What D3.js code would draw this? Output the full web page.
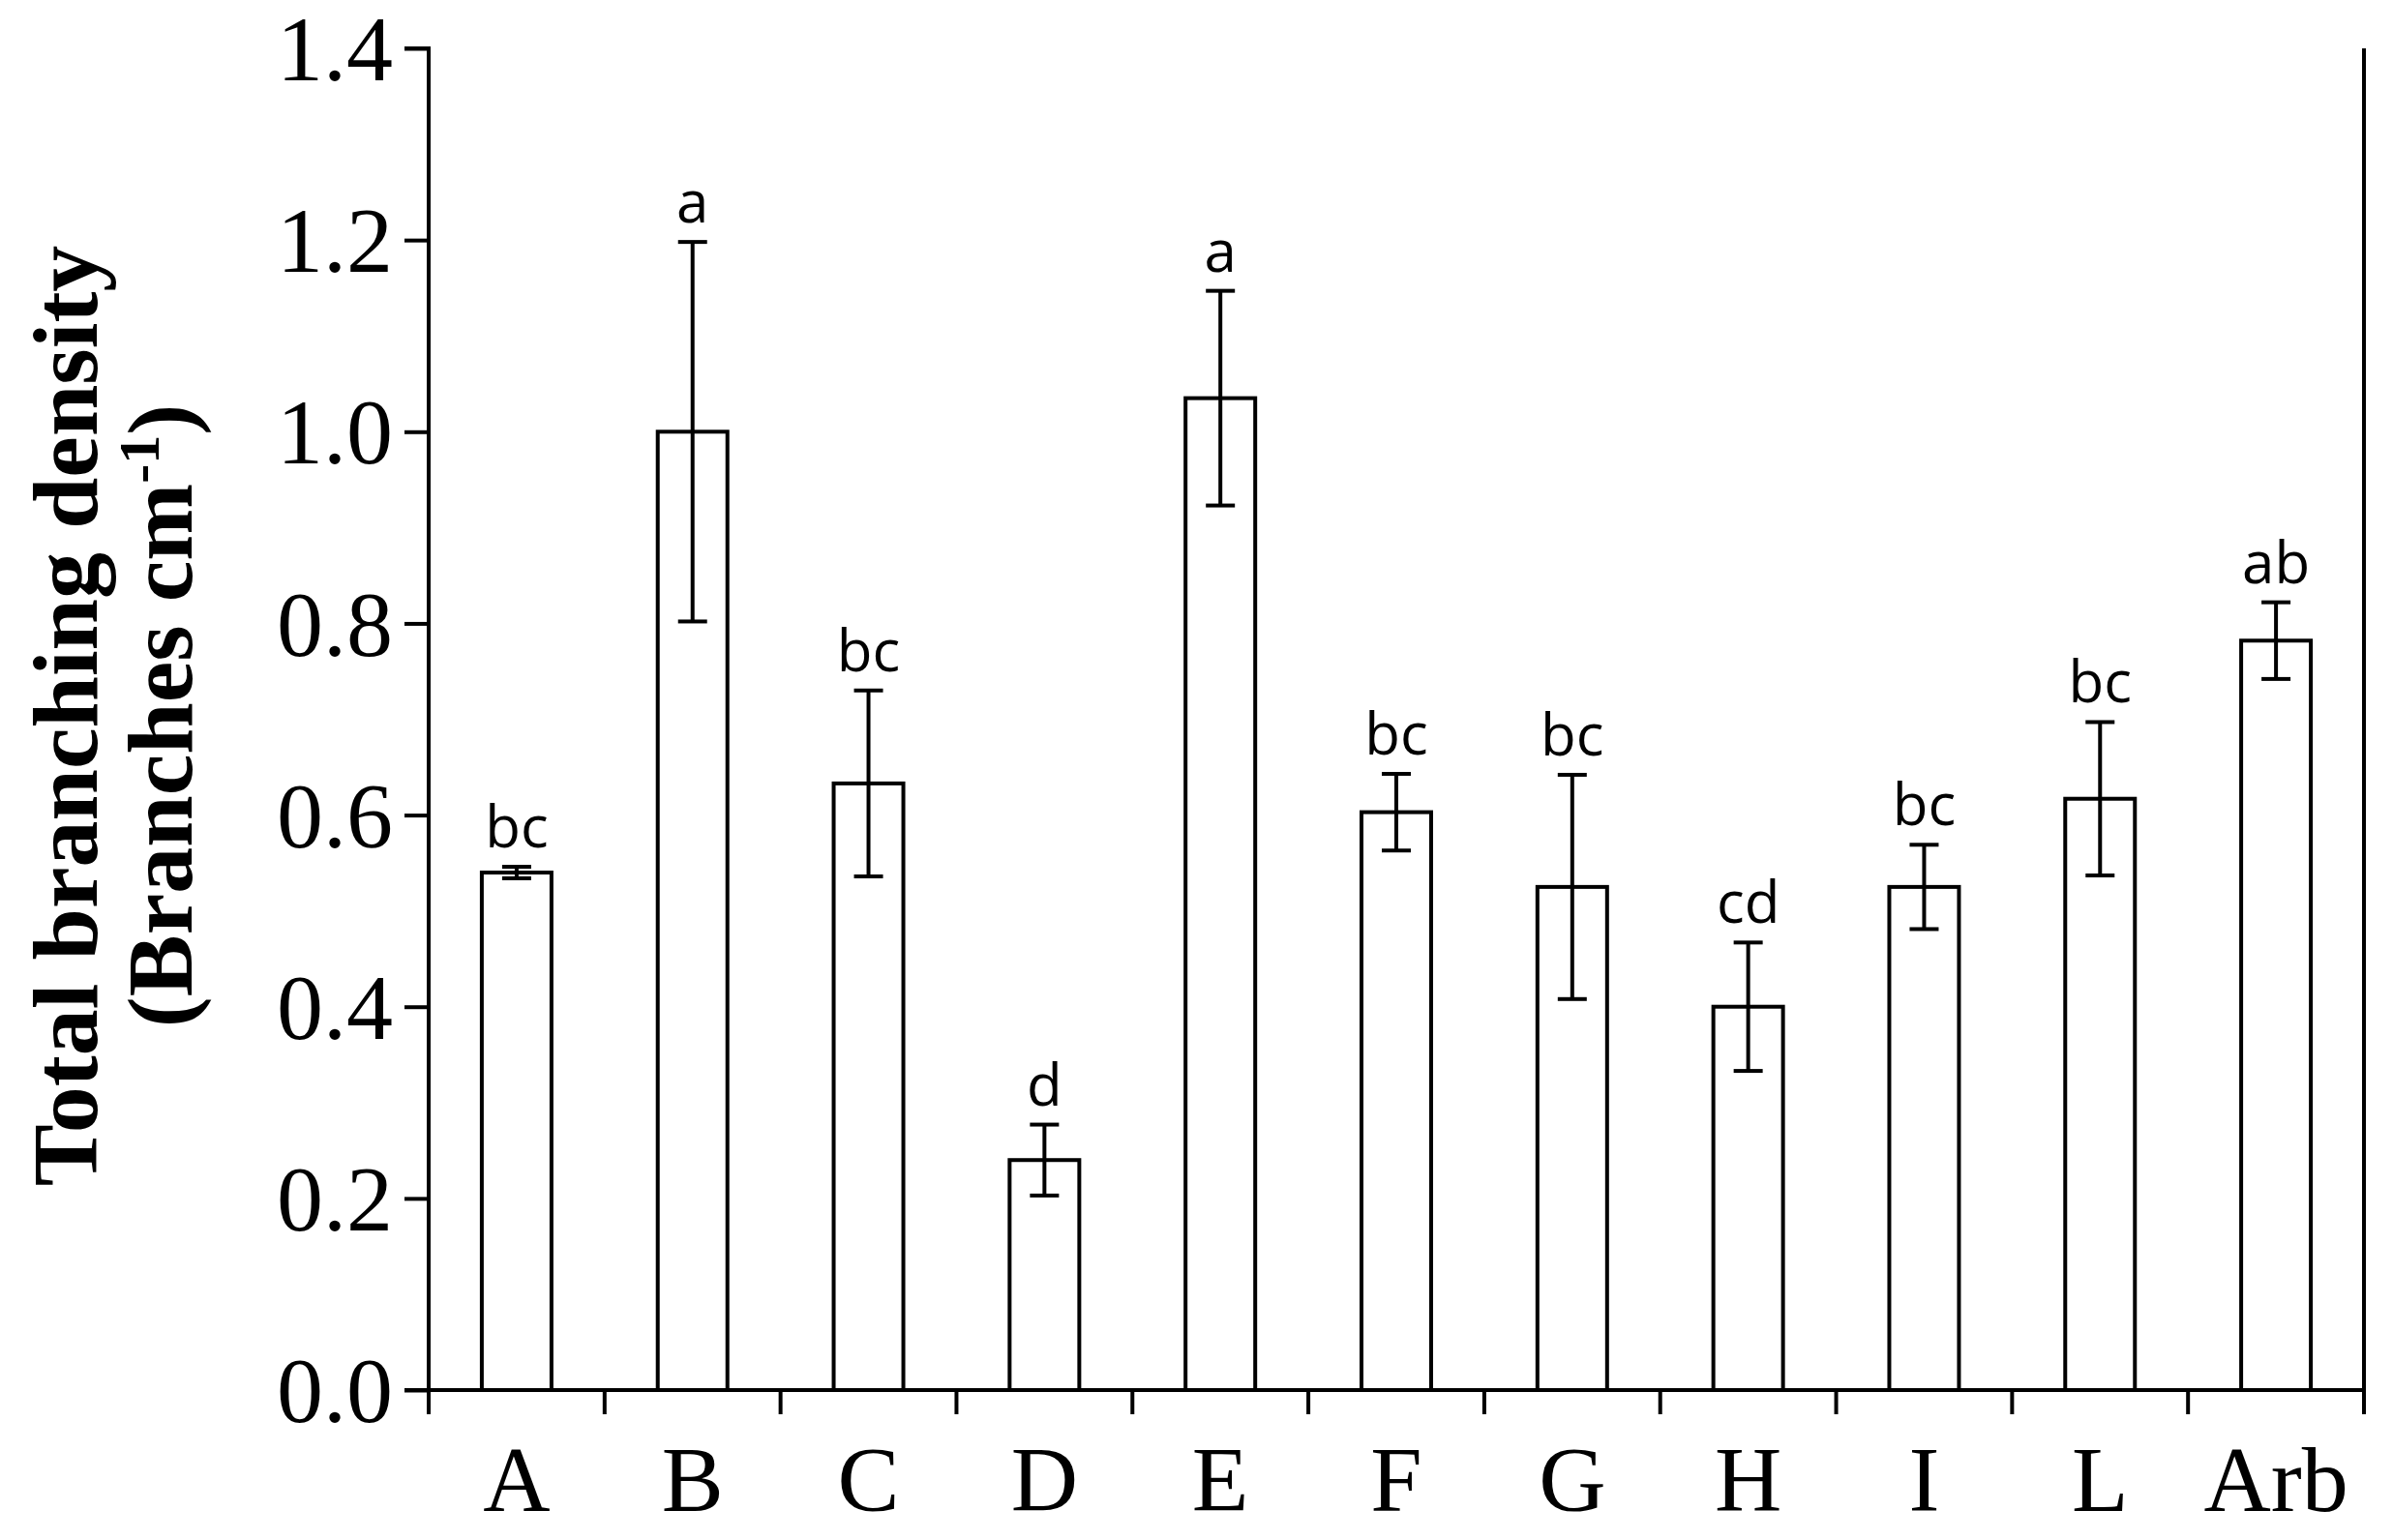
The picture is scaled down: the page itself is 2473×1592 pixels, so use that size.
<!DOCTYPE html>
<html><head><meta charset="utf-8">
<script src="https://cdn.jsdelivr.net/npm/d3@7"></script>
<style>body{margin:0;background:#fff}</style></head>
<body><svg id="c" width="2473" height="1592"></svg>
<script>
const categories=["A","B","C","D","E","F","G","H","I","L","Arb"];
const values=[0.54,1.0,0.633,0.24,1.035,0.603,0.525,0.4,0.525,0.617,0.782];
const errors=[0.006,0.198,0.097,0.037,0.112,0.04,0.117,0.067,0.044,0.08,0.04];
const letters=["bc","a","bc","d","a","bc","bc","cd","bc","bc","ab"];
const yTicks=[0,0.2,0.4,0.6,0.8,1.0,1.2,1.4];

const svg=d3.select("#c");
const L=443,R=2443,T=50,B=1437;
const y=d3.scaleLinear().domain([0,1.4]).range([B,T]);
const xb=d3.scaleBand().domain(categories).range([L,R]);
const band=xb.bandwidth();
const SW=4;

const ya=svg.append("g").attr("transform",`translate(${L},0)`)
 .call(d3.axisLeft(y).tickValues(yTicks).tickFormat(d3.format(".1f")).tickSize(25).tickPadding(12));
ya.selectAll("text").attr("font-family","Liberation Serif").attr("font-size",96).attr("fill","#000").attr("dy","0.34em");
ya.selectAll("line,path").attr("stroke","#000").attr("stroke-width",SW);
ya.select("path").attr("d",`M-25,${B}H0V${T}H-25`);

svg.append("line").attr("x1",L).attr("x2",R).attr("y1",B).attr("y2",B).attr("stroke","#000").attr("stroke-width",SW);
svg.append("line").attr("x1",R).attr("x2",R).attr("y1",T).attr("y2",B).attr("stroke","#000").attr("stroke-width",SW);
categories.forEach((c,i)=>{
  const bx=xb(c);
  svg.append("line").attr("x1",bx).attr("x2",bx).attr("y1",B).attr("y2",B+25).attr("stroke","#000").attr("stroke-width",SW);
  svg.append("text").attr("x",bx+band/2).attr("y",B+125).attr("text-anchor","middle")
   .attr("font-family","Liberation Serif").attr("font-size",96).text(c);
});
svg.append("line").attr("x1",R).attr("x2",R).attr("y1",B).attr("y2",B+25).attr("stroke","#000").attr("stroke-width",SW);

const bw=72;
categories.forEach((c,i)=>{
  const cx=xb(c)+band/2, v=values[i], e=errors[i];
  svg.append("rect").attr("x",cx-bw/2).attr("y",y(v)).attr("width",bw).attr("height",B-y(v))
   .attr("fill","#fff").attr("stroke","#000").attr("stroke-width",SW);
  const g=svg.append("g").attr("stroke","#000").attr("stroke-width",SW);
  g.append("line").attr("x1",cx).attr("x2",cx).attr("y1",y(v+e)).attr("y2",y(v-e));
  g.append("line").attr("x1",cx-15).attr("x2",cx+15).attr("y1",y(v+e)).attr("y2",y(v+e));
  g.append("line").attr("x1",cx-15).attr("x2",cx+15).attr("y1",y(v-e)).attr("y2",y(v-e));
  svg.append("text").attr("x",cx).attr("y",y(v+e)-20).attr("text-anchor","middle")
   .attr("font-family","Open Sans").attr("font-size",60).text(letters[i]);
});

const t=svg.append("text").attr("transform",`translate(100,740) rotate(-90)`).attr("text-anchor","middle")
 .attr("font-family","Liberation Serif").attr("font-weight","bold").attr("font-size",96);
t.append("tspan").text("Total branching density");
const t2=svg.append("text").attr("transform",`translate(198,740) rotate(-90)`).attr("text-anchor","middle")
 .attr("font-family","Liberation Serif").attr("font-weight","bold").attr("font-size",96);
t2.append("tspan").text("(Branches cm");
t2.append("tspan").attr("dy",-34).attr("font-size",60).text("-1");
t2.append("tspan").attr("dy",34).text(")");
</script></body></html>
